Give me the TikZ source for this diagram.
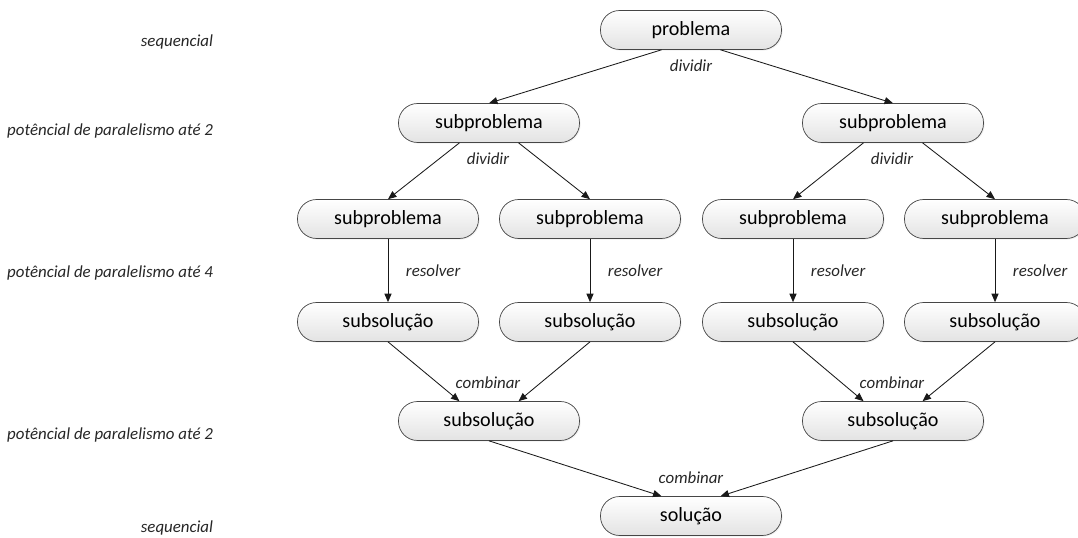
\documentclass[tikz,border=0pt]{standalone}
\usepackage{fontspec}
\setmainfont{Carlito}
\usepackage{tikz}
\usetikzlibrary{arrows.meta,shadows}

\begin{document}
\begin{tikzpicture}[x=0.025cm, y=-0.025cm,
  box/.style={rounded corners=13.5pt, draw=gray!55!black, line width=0.5pt,
    top color=white, bottom color=gray!22, minimum width=128.7pt, minimum height=27.7pt,
    inner sep=0pt, font=\fontsize{14.3}{16}\selectfont,
    drop shadow={opacity=0.12, shadow xshift=0.8pt, shadow yshift=-0.8pt}},
  arr/.style={-{Triangle[length=6pt,width=5pt]}, draw=gray!20!black, line width=0.6pt},
  lbl/.style={font=\fontsize{12}{14}\selectfont\itshape, text=black!85},
  side/.style={lbl, anchor=east}]
\useasboundingbox (0,0) rectangle (1078,538);
% level labels on the left
\node[side] (l1) at (218,42) {sequencial};
\node[side] (l2) at (218,131) {potêncial de paralelismo até 2};
\node[side] (l3) at (218,273) {potêncial de paralelismo até 4};
\node[side] (l4) at (218,435) {potêncial de paralelismo até 2};
\node[side] (l5) at (218,528) {sequencial};
% divide
\node[box] (prob) at (691,30) {problema};
\node[box] (sA) at (489,123) {subproblema};
\node[box] (sB) at (893,123) {subproblema};
\node[box] (sA1) at (388,219) {subproblema};
\node[box] (sA2) at (590,219) {subproblema};
\node[box] (sB1) at (793,219) {subproblema};
\node[box] (sB2) at (995,219) {subproblema};
% solve
\node[box] (uA1) at (388,322) {subsolução};
\node[box] (uA2) at (590,322) {subsolução};
\node[box] (uB1) at (793,322) {subsolução};
\node[box] (uB2) at (995,322) {subsolução};
% combine
\node[box] (cA) at (489,421) {subsolução};
\node[box] (cB) at (893,421) {subsolução};
\node[box] (sol) at (691,516) {solução};
% connectors
\draw[arr] ([xshift=-21pt]prob.south) -- (sA.north);
\draw[arr] ([xshift=21pt]prob.south) -- (sB.north);
\draw[arr] ([xshift=-21pt]sA.south) -- (sA1.north);
\draw[arr] ([xshift=21pt]sA.south) -- (sA2.north);
\draw[arr] ([xshift=-21pt]sB.south) -- (sB1.north);
\draw[arr] ([xshift=21pt]sB.south) -- (sB2.north);
\foreach \s/\u in {sA1/uA1,sA2/uA2,sB1/uB1,sB2/uB2}
  \draw[arr] (\s.south) -- (\u.north);
\draw[arr] (uA1.south) -- ([xshift=-21pt]cA.north);
\draw[arr] (uA2.south) -- ([xshift=21pt]cA.north);
\draw[arr] (uB1.south) -- ([xshift=-21pt]cB.north);
\draw[arr] (uB2.south) -- ([xshift=21pt]cB.north);
\draw[arr] (cA.south) -- ([xshift=-21pt]sol.north);
\draw[arr] (cB.south) -- ([xshift=21pt]sol.north);
% connector labels
\node[lbl] (d0) at (691,66) {dividir};
\node[lbl] (dA) at (488,159) {dividir};
\node[lbl] (dB) at (892,159) {dividir};
\foreach \x [count=\i] in {401,603,806,1008}
  \node[lbl, anchor=west] (r\i) at (\x,271) {resolver};
\node[lbl] (cbA) at (488,383) {combinar};
\node[lbl] (cbB) at (892,383) {combinar};
\node[lbl] (cb0) at (691,478) {combinar};
\end{tikzpicture}
\end{document}
